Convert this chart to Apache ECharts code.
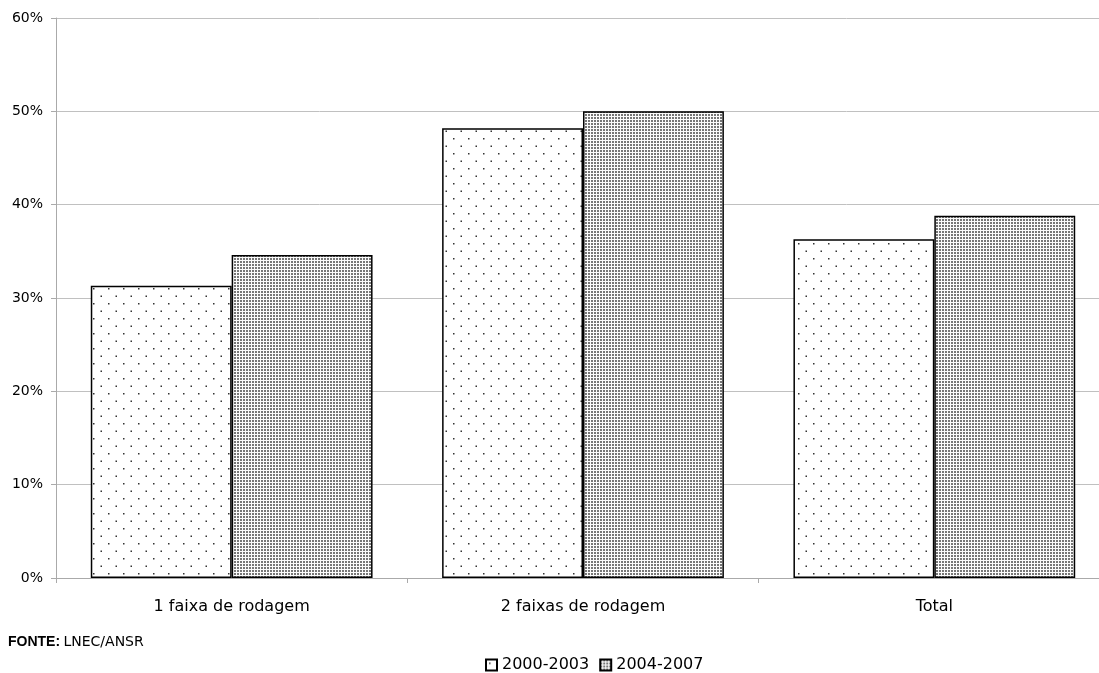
<!DOCTYPE html>
<html>
<head>
<meta charset="utf-8">
<script src="https://cdn.jsdelivr.net/npm/echarts@6/dist/echarts.min.js"></script>
<style>
html,body{margin:0;padding:0;background:#fff;overflow:hidden;width:1099px;height:673px;}
#chart{width:1110px;height:673px;}
</style>
</head>
<body>
<div id="chart"></div>
<script>
const categories = ['1 faixa de rodagem', '2 faixas de rodagem', 'Total'];
const seriesNames = ['2000-2003', '2004-2007'];
const values2000_2003 = [31.3, 48.2, 36.3];
const values2004_2007 = [34.6, 50.0, 38.8];
const yTicks = [0, 10, 20, 30, 40, 50, 60];

const FONT = '"DejaVu Sans", "Liberation Sans", Arial, sans-serif';

function sparsePattern() {
  const c = document.createElement('canvas');
  c.width = 15; c.height = 15;
  const g = c.getContext('2d');
  g.fillStyle = '#fff'; g.fillRect(0, 0, 15, 15);
  g.fillStyle = '#333';
  g.fillRect(3, 3, 1.5, 1.5);
  g.fillRect(10.5, 10.5, 1.5, 1.5);
  return c;
}
function densePattern() {
  const c = document.createElement('canvas');
  c.width = 3; c.height = 3;
  const g = c.getContext('2d');
  g.fillStyle = '#fcfcfc'; g.fillRect(0, 0, 3, 3);
  g.fillStyle = '#777777';
  g.fillRect(0, 0, 2, 2);
  return c;
}

const chart = echarts.init(document.getElementById('chart'));
chart.setOption({
  animation: false,
  backgroundColor: '#fff',
  textStyle: { fontFamily: FONT },
  grid: { left: 56, top: 18, right: 0, bottom: 95, containLabel: false },
  legend: {
    top: 652,
    left: 480,
    icon: 'rect',
    itemWidth: 11,
    itemHeight: 11,
    itemGap: 10,
    textStyle: { fontSize: 16, color: '#000', fontFamily: FONT },
    data: seriesNames
  },
  graphic: [{
    type: 'text',
    left: 8,
    top: 635,
    style: {
      rich: {
        b: { fontWeight: 'bold', fontSize: 14, fill: '#000', fontFamily: '"Liberation Sans", Arial, sans-serif' },
        n: { fontSize: 14, fill: '#000', fontFamily: FONT }
      },
      text: '{b|FONTE:} {n|LNEC/ANSR}'
    }
  }],
  xAxis: {
    type: 'category',
    data: categories,
    axisLine: { lineStyle: { color: '#aaa', width: 1 } },
    axisTick: { show: true, length: 5, lineStyle: { color: '#aaa' } },
    axisLabel: { fontSize: 16, color: '#000', margin: 21 }
  },
  yAxis: {
    type: 'value',
    min: 0, max: 60, interval: 10,
    axisLine: { show: true, lineStyle: { color: '#aaa' } },
    axisTick: { show: true, length: 5, lineStyle: { color: '#aaa' } },
    axisLabel: { fontSize: 14, color: '#000', margin: 13, formatter: v => yTicks.includes(v) ? v + '%' : '' },
    splitLine: { show: true, lineStyle: { color: '#c0c0c0', width: 1 } }
  },
  series: [
    {
      name: seriesNames[0],
      type: 'bar',
      data: values2000_2003,
      barGap: '0%',
      barCategoryGap: '19.8%',
      itemStyle: { color: { image: sparsePattern(), repeat: 'repeat' }, borderColor: '#000', borderWidth: 1.5 }
    },
    {
      name: seriesNames[1],
      type: 'bar',
      data: values2004_2007,
      barGap: '0%',
      barCategoryGap: '19.8%',
      itemStyle: { color: { image: densePattern(), repeat: 'repeat' }, borderColor: '#000', borderWidth: 1.5 }
    }
  ]
});
</script>
</body>
</html>
